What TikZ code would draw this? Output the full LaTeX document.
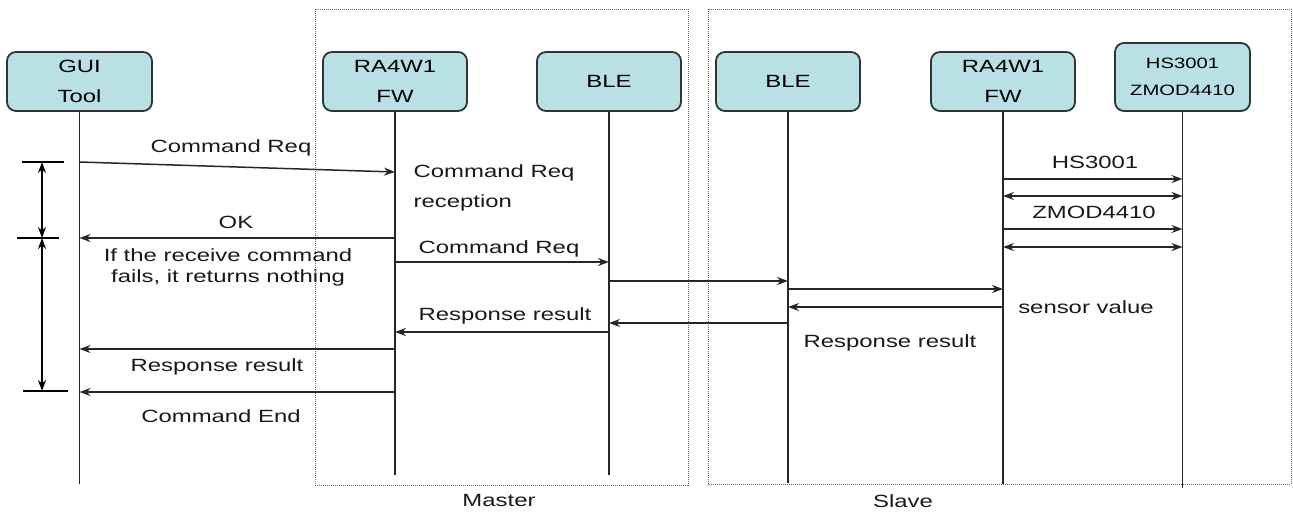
\documentclass[tikz,border=0pt]{standalone}
\usepackage{fontspec}
\newfontfamily\seqfont{Liberation Sans}[FakeStretch=1.35]
\usetikzlibrary{arrows.meta, positioning}
\definecolor{boxfill}{RGB}{185,224,228}
\definecolor{boxline}{RGB}{51,51,51}

\begin{document}
\begin{tikzpicture}[
    x=1pt, y=-1pt,
    >={Stealth[length=11pt,width=8pt]},
    line width=1.4pt,
    every node/.style={font=\seqfont\fontsize{17.7}{30}\selectfont, inner sep=0pt},  % stretched Arial look
    lifebox/.style={draw=boxline, fill=boxfill, rounded corners=9pt, line width=1.8pt, minimum width=144pt, minimum height=59pt, align=center},
    lifeline/.style={line width=1.8pt, draw=black!85},
    msg/.style={->, line width=1.5pt, draw=black!85},
    boldmsg/.style={->, line width=2.4pt, draw=black!85},
    region/.style={draw=black!60, densely dotted, line width=1pt},
    msgtext/.style={anchor=base, text=black!90}
]
\useasboundingbox (0,0) rectangle (1293,512);

% Master / Slave regions
\draw[region] (315,9) rectangle (688,485);
\draw[region] (708,9) rectangle (1291,484);
\node[msgtext] (master) at (499,506) {Master};
\node[msgtext] (slave) at (903,507) {Slave};

% Participants
\node[lifebox, minimum width=145pt] (gui) at (79.5,81.5) {GUI\\Tool};
\node[lifebox] (ram) at (395,81.5) {RA4W1\\FW};
\node[lifebox] (blem) at (609,81.5) {BLE};
\node[lifebox] (bles) at (788,81.5) {BLE};
\node[lifebox] (ras) at (1003,81.5) {RA4W1\\FW};
\node[lifebox, minimum width=135pt, minimum height=68pt, font=\seqfont\fontsize{15}{27}\selectfont] (hs) at (1182.5,77) {HS3001\\ZMOD4410};

% Lifelines
\coordinate (gui-end) at (gui |- 0,484);
\coordinate (ram-end) at (ram |- 0,475);
\coordinate (blem-end) at (blem |- 0,475);
\coordinate (bles-end) at (bles |- 0,483);
\coordinate (ras-end) at (ras |- 0,484);
\coordinate (hs-end) at (hs |- 0,488);
\draw[lifeline] (gui.south) -- (gui-end);
\draw[lifeline] (ram.south) -- (ram-end);
\draw[lifeline] (blem.south) -- (blem-end);
\draw[lifeline] (bles.south) -- (bles-end);
\draw[lifeline] (ras.south) -- (ras-end);
\draw[lifeline] (hs.south) -- (hs-end);

% GUI <-> master FW
\draw[msg] (gui |- 0,162) -- (ram |- 0,172);
\node[msgtext] (req1) at (231,152) {Command Req};
\node[msgtext, anchor=base west] (recv1) at (413,177) {Command Req};
\node[msgtext, anchor=base west] (recv2) at (413,207) {reception};
\draw[boldmsg] (ram |- 0,238) -- (gui |- 0,238);
\node[msgtext] (ok) at (236,228) {OK};
\node[msgtext] (fail1) at (228,261) {If the receive command};
\node[msgtext] (fail2) at (228,282) {fails, it returns nothing};

% master FW -> BLE -> slave
\draw[msg] (ram |- 0,262) -- (blem |- 0,262);
\node[msgtext] (req2) at (499,253) {Command Req};
\draw[msg] (blem |- 0,281) -- (bles |- 0,281);
\draw[msg] (bles |- 0,289) -- (ras |- 0,289);

% slave FW <-> sensors
\draw[msg] (ras |- 0,179) -- (hs |- 0,179);
\node[msgtext] (hslbl) at (1095,168) {HS3001};
\draw[<->, line width=1.5pt, draw=black!85] (ras |- 0,196) -- (hs |- 0,196);
\draw[msg] (ras |- 0,229) -- (hs |- 0,229);
\node[msgtext] (zmodlbl) at (1094,218) {ZMOD4410};
\draw[<->, line width=1.5pt, draw=black!85] (ras |- 0,247) -- (hs |- 0,247);

% responses back
\draw[msg] (ras |- 0,307) -- (bles |- 0,307);
\node[msgtext] (sensor) at (1086,313) {sensor value};
\draw[msg] (bles |- 0,323) -- (blem |- 0,323);
\node[msgtext] (resp1) at (890,347) {Response result};
\draw[boldmsg] (blem |- 0,332) -- (ram |- 0,332);
\node[msgtext] (resp2) at (505,320) {Response result};
\draw[msg] (ram |- 0,349) -- (gui |- 0,349);
\node[msgtext] (resp3) at (217,371) {Response result};
\draw[msg] (ram |- 0,392) -- (gui |- 0,392);
\node[msgtext] (cmdend) at (221,422) {Command End};

% Timing marks on the left
\coordinate (tick1) at (42,162);
\coordinate (tick2) at (42,238);
\coordinate (tick3) at (42,391);
\draw[line width=1.2pt] ([xshift=-20pt]tick1) -- ([xshift=22pt]tick1);
\draw[line width=1.2pt] ([xshift=-25pt]tick2) -- ([xshift=17pt]tick2);
\draw[line width=1.2pt] ([xshift=-19pt]tick3) -- ([xshift=26pt]tick3);
\draw[<->, line width=1.8pt] (tick1) -- (tick2);
\draw[<->, line width=1.8pt] (tick2) -- (tick3);

\end{tikzpicture}
\end{document}
